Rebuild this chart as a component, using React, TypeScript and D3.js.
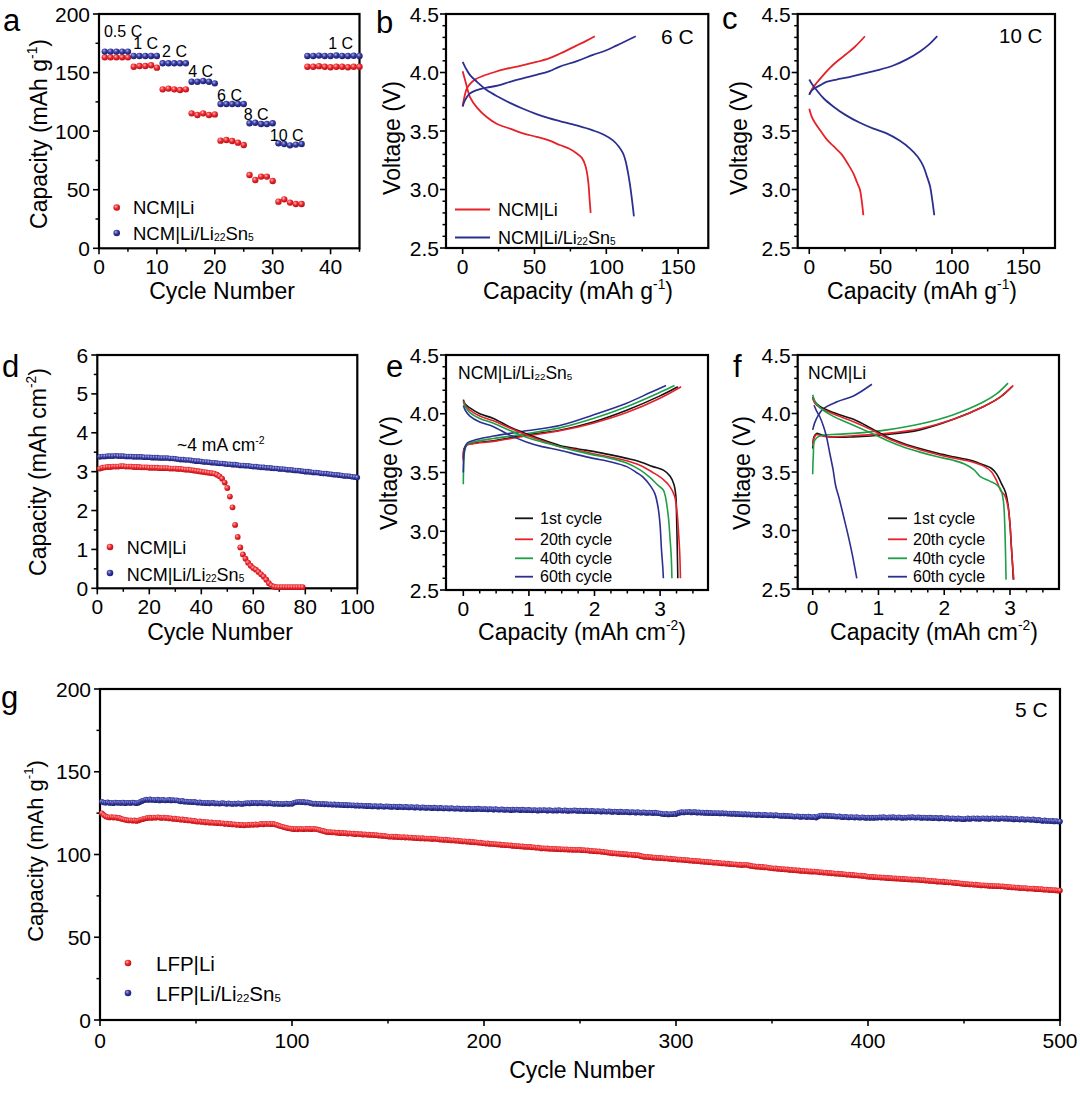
import React from "react";
import * as d3 from "d3";

const FONT = "'Liberation Sans', Arial, Helvetica, sans-serif";
const RED = "#e5222a";
const BLUE = "#2b2f8f";
const GREEN = "#1f9e48";
const BLACK = "#141414";

type Pt = [number, number];

// ---------- Panel a: rate capability (capacity per cycle, cycles 1..45) ----------
const rateNcmLi = [163, 163, 163, 163, 163, 155, 155.6, 155.6, 156.2, 154.2, 135.7, 136.3, 135.7, 135.1, 135.7, 115.2, 113.8, 115.2, 113.8, 114.3, 91.9, 92.5, 91.6, 90.2, 88.2, 62.6, 58.3, 61.2, 61.2, 57.5, 39.8, 41.8, 39, 37.8, 37.8, 155, 155, 155.5, 155, 154.5, 155, 155, 154.5, 155, 155];
const rateNcmLiSn = [167.9, 167.9, 167.9, 167.9, 167.9, 164.2, 164.2, 164.2, 164.2, 164.2, 157.9, 157.9, 157.9, 157.9, 157.9, 142.2, 142.2, 142.8, 142.2, 140.8, 123.2, 123.2, 123.2, 123.2, 123.2, 106.7, 107.2, 106.1, 106.1, 106.7, 89.6, 89, 87.9, 88.5, 89, 164.2, 164.2, 164.5, 164.2, 164.2, 164.6, 164.2, 164.2, 164.4, 164.2];
const rateLabels = ["0.5 C", "1 C", "2 C", "4 C", "6 C", "8 C", "10 C", "1 C"];
const rateLabelAt: Pt[] = [[0.86, 180.6], [5.9, 170], [10.9, 163.3], [15.4, 146.2], [20.4, 125.4], [25.0, 109.2], [29.5, 91.6], [39.6, 170]];

// ---------- Panel b: 6 C voltage profiles ----------
const b6RedChg: Pt[] = [[0, 3.71], [1, 3.78], [2.8, 3.86], [5, 3.9], [8.6, 3.94], [14, 3.97], [21.3, 4.0], [30, 4.03], [37.5, 4.05], [51.4, 4.09], [60, 4.12], [67.6, 4.16], [79.2, 4.23], [86, 4.27], [92, 4.31]];
const b6RedDis: Pt[] = [[0, 4.01], [2, 3.92], [5.1, 3.79], [10, 3.7], [16.7, 3.62], [24, 3.56], [32.9, 3.52], [42, 3.48], [51.4, 3.45], [60, 3.42], [67.6, 3.38], [74, 3.35], [79.2, 3.31], [83, 3.27], [85.5, 3.2], [87.3, 3.08], [88.4, 2.91], [89.1, 2.8]];
const b6BlueChg: Pt[] = [[0, 3.71], [1.5, 3.76], [5, 3.82], [10, 3.85], [16.7, 3.87], [25, 3.89], [32.9, 3.92], [42, 3.95], [51.4, 3.98], [60, 4.01], [67.6, 4.05], [80, 4.1], [90.7, 4.15], [100, 4.19], [107, 4.23], [113, 4.265], [120.5, 4.31]];
const b6BlueDis: Pt[] = [[0, 4.09], [2, 4.04], [5, 3.98], [10, 3.92], [16.7, 3.85], [25, 3.79], [32.9, 3.74], [42, 3.69], [51.4, 3.645], [60, 3.61], [67.6, 3.585], [80, 3.545], [90.7, 3.505], [98, 3.47], [104.6, 3.42], [108.5, 3.37], [111.6, 3.31], [113.5, 3.24], [115, 3.15], [116.5, 3.04], [117.6, 2.94], [118.5, 2.85], [119.2, 2.77]];

// ---------- Panel c: 10 C voltage profiles ----------
const c10RedChg: Pt[] = [[0, 3.81], [2, 3.86], [5.1, 3.91], [10, 3.98], [14.5, 4.04], [20, 4.1], [26.2, 4.16], [32, 4.22], [39, 4.31]];
const c10RedDis: Pt[] = [[0, 3.69], [1.5, 3.63], [4, 3.57], [8, 3.5], [12.1, 3.43], [17, 3.37], [22.7, 3.3], [27, 3.22], [30.8, 3.14], [33.5, 3.06], [35.5, 3.0], [36.8, 2.9], [37.9, 2.78]];
const c10BlueChg: Pt[] = [[0, 3.81], [2, 3.85], [7.5, 3.89], [12, 3.92], [19.2, 3.94], [28, 3.96], [37.9, 3.99], [48, 4.02], [58.9, 4.06], [68, 4.11], [77.6, 4.18], [84, 4.24], [89.7, 4.31]];
const c10BlueDis: Pt[] = [[0, 3.94], [2, 3.9], [5.1, 3.85], [10, 3.78], [16.8, 3.71], [25, 3.64], [35.5, 3.57], [45, 3.52], [54.2, 3.48], [63, 3.42], [70.6, 3.35], [76, 3.28], [79.9, 3.2], [82.5, 3.11], [84.6, 3.03], [86.3, 2.9], [87.6, 2.78]];

// ---------- Panel d: areal capacity vs cycle ----------
const dNcmLiSn = [3.38, 3.39, 3.39, 3.40, 3.40, 3.40, 3.41, 3.40, 3.40, 3.40, 3.39, 3.39, 3.39, 3.38, 3.38, 3.38, 3.38, 3.37, 3.37, 3.37, 3.36, 3.36, 3.36, 3.35, 3.35, 3.35, 3.35, 3.34, 3.34, 3.33, 3.32, 3.31, 3.31, 3.30, 3.30, 3.29, 3.28, 3.27, 3.27, 3.26, 3.25, 3.25, 3.24, 3.23, 3.23, 3.22, 3.21, 3.21, 3.20, 3.19, 3.19, 3.18, 3.18, 3.17, 3.16, 3.16, 3.15, 3.15, 3.14, 3.13, 3.13, 3.12, 3.11, 3.11, 3.10, 3.10, 3.09, 3.08, 3.08, 3.07, 3.07, 3.06, 3.05, 3.05, 3.04, 3.03, 3.03, 3.02, 3.01, 3.00, 3.00, 2.99, 2.98, 2.98, 2.97, 2.96, 2.95, 2.95, 2.94, 2.93, 2.92, 2.92, 2.91, 2.90, 2.89, 2.89, 2.88, 2.87, 2.86, 2.85];
const dNcmLi = [3.08, 3.10, 3.11, 3.12, 3.12, 3.13, 3.13, 3.13, 3.14, 3.14, 3.13, 3.13, 3.13, 3.12, 3.12, 3.12, 3.11, 3.11, 3.11, 3.10, 3.10, 3.10, 3.10, 3.09, 3.09, 3.09, 3.09, 3.08, 3.08, 3.08, 3.07, 3.07, 3.06, 3.05, 3.05, 3.04, 3.03, 3.02, 3.01, 3.00, 2.99, 2.98, 2.97, 2.96, 2.95, 2.92, 2.88, 2.82, 2.72, 2.58, 2.36, 2.08, 1.63, 1.32, 1.05, 0.87, 0.76, 0.66, 0.58, 0.52, 0.48, 0.42, 0.36, 0.30, 0.22, 0.13, 0.07, 0.04, 0.03, 0.03, 0.03, 0.03, 0.03, 0.03, 0.03, 0.03, 0.03, 0.03, 0.03];

// ---------- Panel e: NCM|Li/Li22Sn5 profiles ----------
const eDis1: Pt[] = [[0, 4.12], [0.03, 4.08], [0.1, 4.05], [0.25, 4.0], [0.46, 3.96], [0.7, 3.89], [0.96, 3.83], [1.2, 3.78], [1.47, 3.73], [1.75, 3.7], [1.98, 3.68], [2.25, 3.65], [2.49, 3.62], [2.7, 3.59], [2.89, 3.55], [3.05, 3.52], [3.15, 3.47], [3.21, 3.4], [3.24, 3.3], [3.25, 3.15], [3.26, 2.9], [3.27, 2.6]];
const eDis20: Pt[] = [[0, 4.11], [0.03, 4.07], [0.1, 4.03], [0.25, 3.98], [0.46, 3.94], [0.7, 3.88], [0.96, 3.82], [1.2, 3.77], [1.47, 3.72], [1.75, 3.69], [1.98, 3.66], [2.25, 3.63], [2.49, 3.6], [2.7, 3.56], [2.89, 3.5], [3.05, 3.44], [3.15, 3.38], [3.22, 3.3], [3.26, 3.15], [3.28, 3.0], [3.3, 2.8], [3.31, 2.6]];
const eDis40: Pt[] = [[0, 4.1], [0.03, 4.06], [0.1, 4.01], [0.25, 3.96], [0.46, 3.92], [0.7, 3.86], [0.96, 3.8], [1.2, 3.76], [1.47, 3.72], [1.75, 3.68], [1.98, 3.65], [2.25, 3.62], [2.49, 3.58], [2.7, 3.52], [2.84, 3.46], [2.97, 3.39], [3.05, 3.35], [3.12, 3.15], [3.15, 2.95], [3.17, 2.78], [3.18, 2.6]];
const eDis60: Pt[] = [[0, 4.07], [0.03, 4.03], [0.1, 3.98], [0.25, 3.93], [0.46, 3.89], [0.7, 3.82], [0.96, 3.76], [1.2, 3.72], [1.47, 3.69], [1.75, 3.65], [1.98, 3.62], [2.25, 3.59], [2.49, 3.55], [2.64, 3.5], [2.74, 3.46], [2.86, 3.38], [2.92, 3.32], [2.97, 3.2], [3.0, 3.05], [3.02, 2.85], [3.04, 2.7], [3.05, 2.6]];
const eChg1: Pt[] = [[0, 3.62], [0.01, 3.7], [0.05, 3.735], [0.15, 3.75], [0.46, 3.77], [0.96, 3.82], [1.47, 3.86], [1.98, 3.93], [2.49, 4.03], [2.99, 4.15], [3.27, 4.23]];
const eChg20: Pt[] = [[0, 3.6], [0.01, 3.69], [0.05, 3.73], [0.15, 3.745], [0.46, 3.765], [0.96, 3.81], [1.47, 3.855], [1.98, 3.92], [2.49, 4.01], [2.99, 4.13], [3.32, 4.23]];
const eChg40: Pt[] = [[0, 3.4], [0.005, 3.55], [0.02, 3.68], [0.06, 3.74], [0.2, 3.765], [0.46, 3.79], [0.96, 3.83], [1.47, 3.88], [1.98, 3.96], [2.49, 4.06], [2.99, 4.18], [3.22, 4.24]];
const eChg60: Pt[] = [[0, 3.5], [0.005, 3.62], [0.02, 3.7], [0.06, 3.75], [0.2, 3.78], [0.46, 3.81], [0.96, 3.855], [1.47, 3.9], [1.98, 3.99], [2.49, 4.09], [2.85, 4.18], [3.09, 4.24]];

// ---------- Panel f: NCM|Li profiles ----------
const fDis1: Pt[] = [[0, 4.14], [0.03, 4.1], [0.11, 4.06], [0.3, 4.01], [0.62, 3.95], [0.9, 3.87], [1.13, 3.8], [1.4, 3.74], [1.63, 3.7], [1.9, 3.66], [2.14, 3.63], [2.4, 3.6], [2.6, 3.56], [2.72, 3.53], [2.8, 3.48], [2.87, 3.4], [2.93, 3.33], [2.97, 3.22], [3.0, 3.05], [3.02, 2.87], [3.04, 2.7], [3.05, 2.58]];
const fDis20: Pt[] = [[0, 4.13], [0.03, 4.09], [0.11, 4.05], [0.3, 4.0], [0.62, 3.93], [0.9, 3.86], [1.13, 3.79], [1.4, 3.73], [1.63, 3.69], [1.9, 3.65], [2.14, 3.62], [2.4, 3.59], [2.6, 3.55], [2.72, 3.5], [2.8, 3.42], [2.86, 3.34], [2.92, 3.3], [2.97, 3.2], [3.0, 3.05], [3.02, 2.87], [3.04, 2.7], [3.06, 2.58]];
const fDis40: Pt[] = [[0, 4.16], [0.03, 4.11], [0.11, 4.05], [0.3, 3.98], [0.62, 3.9], [0.9, 3.83], [1.13, 3.77], [1.4, 3.71], [1.63, 3.67], [1.9, 3.63], [2.14, 3.6], [2.3, 3.57], [2.45, 3.52], [2.55, 3.46], [2.7, 3.42], [2.8, 3.39], [2.86, 3.35], [2.9, 3.25], [2.92, 3.05], [2.93, 2.85], [2.94, 2.58]];
const fDis60: Pt[] = [[0.02, 4.07], [0.06, 4.02], [0.11, 3.97], [0.17, 3.88], [0.21, 3.8], [0.26, 3.66], [0.31, 3.52], [0.35, 3.38], [0.4, 3.28], [0.47, 3.12], [0.53, 2.98], [0.6, 2.8], [0.67, 2.59]];
const fChg1: Pt[] = [[0, 3.7], [0.02, 3.8], [0.06, 3.83], [0.12, 3.82], [0.25, 3.8], [0.62, 3.8], [1.13, 3.82], [1.63, 3.86], [2.14, 3.95], [2.6, 4.06], [2.85, 4.14], [3.03, 4.23]];
const fChg20: Pt[] = [[0, 3.72], [0.02, 3.79], [0.06, 3.82], [0.12, 3.81], [0.25, 3.8], [0.62, 3.81], [1.13, 3.83], [1.63, 3.87], [2.14, 3.95], [2.6, 4.06], [2.85, 4.14], [3.05, 4.24]];
const fChg40: Pt[] = [[0, 3.48], [0.01, 3.65], [0.03, 3.77], [0.11, 3.81], [0.3, 3.82], [0.62, 3.83], [1.13, 3.86], [1.63, 3.91], [2.14, 3.99], [2.6, 4.1], [2.8, 4.17], [2.97, 4.26]];
const fChg60: Pt[] = [[0, 3.86], [0.03, 3.92], [0.08, 3.98], [0.16, 4.04], [0.37, 4.1], [0.62, 4.15], [0.9, 4.25]];

// ---------- Panel g: LFP long cycling at 5 C (cycles 1..500) ----------
const gLfpLiSn = [
  131.9, 131.4, 131.2, 131.5, 131.1, 131.3, 131.0, 131.4, 131.2, 131.3, 131.1, 131.4, 131.0, 131.2, 131.3, 131.1, 131.4, 131.2, 131.0, 131.3,
  131.8, 132.4, 132.8, 133.2, 133.0, 133.3, 132.9, 133.1, 132.8, 133.2, 132.7, 132.9, 133.0, 132.6, 132.8, 133.1, 132.7, 132.9, 132.6, 132.8,
  132.3, 132.1, 132.4, 131.9, 132.0, 131.7, 131.9, 131.6, 131.8, 131.5, 131.3, 131.5, 131.1, 131.3, 131.0, 131.2, 130.9, 131.1, 131.2, 130.8,
  131.0, 130.7, 130.9, 131.1, 130.8, 130.6, 130.9, 130.7, 130.5, 130.8, 130.6, 130.9, 130.7, 130.5, 130.8, 130.9, 131.1, 130.8, 131.2, 131.0,
  131.3, 130.9, 131.1, 131.2, 130.9, 131.0, 130.8, 131.1, 130.9, 130.7, 130.6, 130.8, 130.5, 130.7, 130.4, 130.6, 130.8, 130.5, 130.7, 130.6,
  131.2, 131.5, 131.7, 131.9, 131.6, 131.8, 131.4, 131.5, 131.2, 131.0, 130.6, 130.8, 130.5, 130.7, 130.4, 130.6, 130.3, 130.5, 130.2, 130.4,
  130.1, 130.3, 130.0, 130.2, 129.9, 130.1, 129.8, 130.0, 129.7, 129.9, 129.6, 129.8, 129.5, 129.7, 129.4, 129.6, 129.3, 129.5, 129.2, 129.4,
  129.2, 129.0, 129.3, 129.1, 128.9, 129.2, 129.0, 128.8, 129.1, 129.0, 128.9, 128.7, 129.0, 128.8, 128.6, 128.9, 128.7, 128.5, 128.8, 128.6,
  128.4, 128.7, 128.5, 128.3, 128.6, 128.4, 128.2, 128.5, 128.3, 128.1, 128.4, 128.2, 128.0, 128.3, 128.1, 127.9, 128.2, 128.0, 127.8, 128.1,
  127.9, 127.7, 128.0, 127.8, 127.6, 127.9, 127.7, 127.5, 127.8, 127.6, 127.4, 127.7, 127.5, 127.3, 127.6, 127.4, 127.7, 127.5, 127.3, 127.5,
  127.4, 127.2, 127.5, 127.3, 127.1, 127.4, 127.2, 127.0, 127.3, 127.1, 126.9, 127.2, 127.0, 126.8, 127.1, 126.9, 127.2, 127.0, 126.8, 127.1,
  126.9, 126.7, 127.0, 126.8, 126.6, 126.9, 126.7, 126.5, 126.8, 126.6, 126.9, 126.7, 126.5, 126.8, 126.6, 126.4, 126.7, 126.5, 126.8, 126.6,
  126.4, 126.7, 126.5, 126.3, 126.6, 126.4, 126.7, 126.5, 126.3, 126.5, 126.4, 126.2, 126.5, 126.3, 126.1, 126.4, 126.2, 126.0, 126.3, 126.1,
  125.9, 126.2, 126.0, 125.8, 126.1, 125.9, 125.7, 126.0, 125.8, 125.6, 125.9, 125.7, 125.5, 125.8, 125.6, 125.4, 125.7, 125.5, 125.3, 125.6,
  125.4, 125.2, 125.5, 125.3, 125.1, 125.4, 125.2, 125.0, 125.3, 125.1, 124.9, 124.7, 124.5, 124.3, 124.6, 124.2, 124.5, 124.3, 124.6, 124.4,
  125.0, 125.3, 125.6, 125.4, 125.7, 125.5, 125.8, 125.4, 125.6, 125.7, 125.3, 125.5, 125.2, 125.4, 125.1, 125.3, 125.0, 125.2, 124.9, 125.1,
  124.9, 125.1, 124.8, 125.0, 124.7, 124.9, 124.6, 124.8, 124.5, 124.7, 124.4, 124.6, 124.3, 124.5, 124.2, 124.4, 124.1, 124.3, 124.0, 124.2,
  124.0, 123.8, 124.1, 123.9, 123.7, 124.0, 123.8, 123.6, 123.9, 123.7, 123.5, 123.8, 123.6, 123.4, 123.3, 123.5, 123.2, 123.4, 123.1, 123.3,
  123.0, 122.8, 123.1, 122.9, 122.7, 123.0, 122.8, 122.6, 122.9, 122.7, 122.5, 122.8, 122.3, 123.0, 123.4, 123.6, 123.3, 123.5, 123.2, 123.4,
  123.1, 123.3, 123.0, 122.8, 123.1, 122.7, 122.5, 122.8, 122.6, 122.4, 122.7, 122.5, 122.3, 122.6, 122.4, 122.2, 122.5, 122.3, 122.1, 122.4,
  122.0, 122.3, 122.1, 122.4, 122.2, 122.5, 122.3, 122.6, 122.4, 122.2, 122.5, 122.3, 122.6, 122.4, 122.2, 122.5, 122.3, 122.1, 122.4, 122.2,
  122.5, 122.3, 122.6, 122.4, 122.2, 122.5, 122.3, 122.1, 122.4, 122.2, 122.0, 122.3, 122.1, 121.9, 122.2, 122.0, 121.8, 122.1, 121.9, 121.7,
  122.0, 121.8, 121.6, 121.9, 121.7, 121.5, 121.8, 121.6, 121.4, 121.3, 121.6, 121.8, 121.5, 121.7, 121.9, 121.6, 121.8, 121.5, 121.7, 121.9,
  121.6, 121.8, 121.5, 121.7, 121.9, 121.6, 121.8, 121.5, 121.7, 121.9, 121.6, 121.8, 121.5, 121.7, 121.4, 121.2, 121.5, 121.3, 121.1, 121.4,
  121.2, 121.0, 121.3, 121.1, 120.9, 121.2, 120.8, 120.6, 120.9, 120.5, 120.3, 120.6, 120.2, 120.4, 120.1, 120.3, 120.0, 120.2, 119.9, 119.9,
];
const gLfpLi = [
  124.9, 123.8, 123.0, 122.6, 122.4, 122.7, 122.3, 122.5, 122.1, 122.2, 121.6, 121.3, 121.0, 120.8, 120.5, 120.7, 120.4, 120.6, 120.3, 120.5,
  121.0, 121.3, 121.6, 121.9, 122.1, 122.3, 122.0, 122.4, 122.2, 122.5, 122.3, 122.1, 122.4, 122.0, 122.2, 121.8, 121.9, 121.5, 121.7, 121.3,
  121.4, 121.0, 121.2, 120.8, 120.9, 120.5, 120.7, 120.3, 120.4, 120.0, 119.8, 120.0, 119.6, 119.8, 119.4, 119.6, 119.2, 119.4, 119.0, 119.2,
  118.9, 119.1, 118.7, 118.9, 118.5, 118.7, 118.3, 118.5, 118.1, 118.3, 117.9, 118.1, 117.7, 117.9, 117.6, 117.8, 118.0, 117.8, 118.1, 117.9,
  118.2, 118.0, 118.3, 118.5, 118.2, 118.6, 118.4, 118.6, 118.3, 118.5, 118.2, 118.0, 117.5, 117.1, 116.8, 116.5, 116.2, 115.9, 115.7, 115.5,
  115.3, 115.5, 115.2, 115.6, 115.4, 115.3, 115.6, 115.4, 115.5, 115.3, 115.6, 115.4, 115.2, 114.9, 114.6, 114.3, 114.0, 113.6, 113.4, 113.5,
  113.3, 113.4, 113.1, 113.2, 112.9, 113.1, 112.8, 112.9, 112.6, 112.8, 112.5, 112.6, 112.3, 112.5, 112.2, 112.3, 112.0, 112.2, 111.9, 112.0,
  111.8, 111.9, 111.6, 111.7, 111.4, 111.5, 111.2, 111.3, 111.0, 110.9, 110.7, 110.9, 110.6, 110.8, 110.5, 110.6, 110.3, 110.5, 110.2, 110.4,
  110.1, 110.3, 110.0, 110.1, 109.8, 110.0, 109.7, 109.9, 109.6, 109.7, 109.5, 109.6, 109.3, 109.5, 109.4, 109.2, 109.0, 109.1, 108.8, 109.0,
  108.7, 108.8, 108.5, 108.6, 108.3, 108.4, 108.1, 108.2, 107.9, 108.0, 107.7, 107.8, 107.5, 107.6, 107.3, 107.4, 107.1, 107.2, 106.9, 106.8,
  106.6, 106.7, 106.4, 106.5, 106.2, 106.3, 106.0, 106.1, 105.8, 105.9, 105.6, 105.7, 105.4, 105.5, 105.2, 105.3, 105.0, 105.1, 104.8, 104.9,
  104.6, 104.7, 104.5, 104.6, 104.3, 104.4, 104.1, 104.2, 103.9, 103.7, 103.8, 103.6, 103.7, 103.4, 103.5, 103.3, 103.4, 103.2, 103.3, 103.1,
  103.2, 103.0, 103.1, 102.9, 103.0, 102.8, 102.9, 102.7, 102.9, 102.8, 102.6, 102.7, 102.4, 102.5, 102.2, 102.3, 102.0, 102.1, 101.8, 101.9,
  101.6, 101.7, 101.4, 101.3, 101.1, 100.9, 100.7, 100.8, 100.5, 100.6, 100.3, 100.4, 100.1, 100.2, 99.9, 100.0, 99.7, 99.8, 99.5, 99.6,
  99.3, 99.0, 98.7, 98.5, 98.6, 98.3, 98.4, 98.1, 98.2, 97.9, 98.0, 97.8, 97.9, 97.6, 97.7, 97.4, 97.5, 97.2, 97.3, 97.1,
  96.9, 97.0, 96.7, 96.8, 96.5, 96.6, 96.3, 96.4, 96.1, 96.2, 95.9, 96.0, 95.7, 95.8, 95.5, 95.6, 95.3, 95.4, 95.1, 95.0,
  95.1, 94.8, 94.9, 94.6, 94.7, 94.4, 94.5, 94.2, 94.3, 94.0, 94.1, 93.8, 93.9, 93.6, 93.7, 93.8, 93.7, 93.4, 93.1, 92.9,
  92.8, 92.6, 92.7, 92.4, 92.5, 92.2, 92.3, 92.0, 91.8, 91.7, 91.5, 91.6, 91.3, 91.4, 91.1, 91.2, 90.9, 91.0, 90.7, 90.8,
  90.5, 90.6, 90.3, 90.4, 90.1, 90.2, 89.9, 90.0, 89.7, 89.8, 89.6, 89.7, 89.6, 89.4, 89.2, 89.3, 89.0, 89.1, 88.8, 88.9,
  88.6, 88.7, 88.4, 88.5, 88.2, 88.3, 88.0, 88.1, 87.8, 87.9, 87.6, 87.7, 87.4, 87.5, 87.2, 87.3, 87.0, 87.1, 86.8, 86.6,
  86.5, 86.6, 86.3, 86.4, 86.1, 86.2, 86.0, 86.1, 85.8, 85.9, 85.7, 85.8, 85.5, 85.6, 85.4, 85.5, 85.2, 85.3, 85.1, 85.2,
  84.9, 85.0, 84.8, 84.9, 84.7, 84.8, 84.6, 84.4, 84.5, 84.2, 84.3, 84.0, 84.1, 83.8, 83.9, 83.6, 83.7, 83.5, 83.6, 83.3,
  83.4, 83.1, 83.2, 82.9, 83.0, 82.7, 82.8, 82.5, 82.4, 82.2, 82.1, 82.2, 81.9, 82.0, 81.7, 81.8, 81.5, 81.6, 81.3, 81.4,
  81.2, 81.3, 81.0, 81.1, 80.9, 81.0, 80.8, 80.9, 80.7, 80.8, 80.6, 80.5, 80.3, 80.4, 80.1, 80.2, 79.9, 80.0, 79.7, 79.8,
  79.6, 79.7, 79.4, 79.5, 79.3, 79.4, 79.1, 79.2, 79.0, 79.1, 78.9, 78.7, 78.8, 78.5, 78.6, 78.4, 78.5, 78.3, 78.2, 78.2,
];

const cycleLegend = ["1st cycle", "20th cycle", "40th cycle", "60th cycle"];
const cycleColors = [BLACK, RED, GREEN, BLUE];

// ---------- helpers ----------
const range = (a: number, b: number, s: number) => {
  const out: number[] = [];
  for (let i = 0; a + i * s <= b + 1e-9; i++) out.push(+(a + i * s).toFixed(4));
  return out;
};
const minorOf = (a: number, b: number, s: number, majors: number[]) =>
  range(a, b, s).filter((v) => !majors.some((m) => Math.abs(m - v) < 1e-6));

type Lin = d3.ScaleLinear<number, number>;

function Axes(props: {
  xs: Lin; ys: Lin; xMajor: number[]; xMinor: number[]; yMajor: number[]; yMinor: number[];
  xFmt: (v: number) => string; yFmt: (v: number) => string; fs: number; yGap: number; xOff: number;
}) {
  const { xs, ys, xMajor, xMinor, yMajor, yMinor, xFmt, yFmt, fs, yGap, xOff } = props;
  const [x0, x1] = xs.range();
  const [yb, yt] = ys.range();
  return (
    <g>
      {xMinor.map((v) => (
        <line key={"xn" + v} x1={xs(v)} x2={xs(v)} y1={yb} y2={yb + 3.5} stroke="#000" strokeWidth={1.5} />
      ))}
      {xMajor.map((v) => (
        <line key={"xj" + v} x1={xs(v)} x2={xs(v)} y1={yb} y2={yb + 6} stroke="#000" strokeWidth={1.6} />
      ))}
      {yMinor.map((v) => (
        <line key={"yn" + v} x1={x0} x2={x0 - 3.5} y1={ys(v)} y2={ys(v)} stroke="#000" strokeWidth={1.5} />
      ))}
      {yMajor.map((v) => (
        <line key={"yj" + v} x1={x0} x2={x0 - 6} y1={ys(v)} y2={ys(v)} stroke="#000" strokeWidth={1.6} />
      ))}
      <rect x={x0} y={yt} width={x1 - x0} height={yb - yt} fill="none" stroke="#000" strokeWidth={2.2} />
      {xMajor.map((v) => (
        <text key={"xl" + v} x={xs(v)} y={yb + xOff} textAnchor="middle" fontSize={fs}>
          {xFmt(v)}
        </text>
      ))}
      {yMajor.map((v) => (
        <text key={"yl" + v} x={x0 - yGap} y={ys(v)} dy="0.36em" textAnchor="end" fontSize={fs}>
          {yFmt(v)}
        </text>
      ))}
    </g>
  );
}

function LiSn({ fs }: { fs: number }) {
  return (
    <>
      <tspan fontSize={fs * 0.56} dy={1.5}>22</tspan>
      <tspan fontSize={fs} dy={-1.5}>Sn</tspan>
      <tspan fontSize={fs * 0.56} dy={1.5}>5</tspan>
    </>
  );
}

function Sup({ fs, t }: { fs: number; t: string }) {
  return (
    <>
      <tspan fontSize={fs * 0.6} dy={-fs * 0.42}>{t}</tspan>
      <tspan fontSize={fs} dy={fs * 0.42}>)</tspan>
    </>
  );
}

function YTitle({ x, y, fs, children }: { x: number; y: number; fs: number; children: React.ReactNode }) {
  return (
    <text transform={`translate(${x},${y}) rotate(-90)`} textAnchor="middle" dy="0.35em" fontSize={fs}>
      {children}
    </text>
  );
}

function Ball({ cx, cy, r, color }: { cx: number; cy: number; r: number; color: "r" | "b" }) {
  return <circle cx={cx} cy={cy} r={r} fill={color === "r" ? "url(#ballR)" : "url(#ballB)"} />;
}

function curvePath(xs: Lin, ys: Lin, pts: Pt[]) {
  return d3
    .line<Pt>()
    .x((d) => xs(d[0]))
    .y((d) => ys(d[1]))
    .curve(d3.curveCatmullRom.alpha(0.5))(pts) as string;
}

const TF = 21; // tick font
const TT = 23; // title font
const LF = 31; // panel letter font
const f1 = (v: number) => v.toFixed(1);
const f0 = (v: number) => String(v);

export default function App() {
  const aX = d3.scaleLinear().domain([0, 45]).range([99, 359.5]);
  const aY = d3.scaleLinear().domain([0, 200]).range([248.3, 14]);
  const bX = d3.scaleLinear().domain([-11.6, 171]).range([446, 708.3]);
  const bY = d3.scaleLinear().domain([2.5, 4.5]).range([248, 14]);
  const cX = d3.scaleLinear().domain([-8.1, 172.2]).range([797.7, 1055]);
  const cY = d3.scaleLinear().domain([2.5, 4.5]).range([248, 14]);
  const dX = d3.scaleLinear().domain([0, 100]).range([97.3, 357.3]);
  const dY = d3.scaleLinear().domain([0, 6]).range([588.3, 355]);
  const eX = d3.scaleLinear().domain([-0.264, 3.73]).range([446, 708]);
  const eY = d3.scaleLinear().domain([2.5, 4.5]).range([590, 355]);
  const fX = d3.scaleLinear().domain([-0.228, 3.745]).range([797.7, 1059]);
  const fY = d3.scaleLinear().domain([2.5, 4.5]).range([589, 355]);
  const gX = d3.scaleLinear().domain([0, 500]).range([100, 1060]);
  const gY = d3.scaleLinear().domain([0, 200]).range([1020, 689]);

  const vMaj = [2.5, 3, 3.5, 4, 4.5];
  const vMin = minorOf(2.5, 4.5, 0.1, vMaj);

  const eDis = [eDis1, eDis20, eDis40, eDis60];
  const eChg = [eChg1, eChg20, eChg40, eChg60];
  const fDis = [fDis1, fDis20, fDis40, fDis60];
  const fChg = [fChg1, fChg20, fChg40, fChg60];

  const lw = 1.8;

  return (
    <div>
      <style>{"html,body{margin:0;padding:0;background:#fff}"}</style>
      <svg width={1080} height={1114} style={{ display: "block", background: "#fff" }} fontFamily={FONT}>
        <defs>
          <radialGradient id="ballR" cx="38%" cy="35%" r="70%">
            <stop offset="0%" stopColor="#ffb3b3" />
            <stop offset="45%" stopColor="#ee2a2f" />
            <stop offset="100%" stopColor="#b20a10" />
          </radialGradient>
          <radialGradient id="ballB" cx="38%" cy="35%" r="70%">
            <stop offset="0%" stopColor="#a9acec" />
            <stop offset="45%" stopColor="#353aa0" />
            <stop offset="100%" stopColor="#191b66" />
          </radialGradient>
        </defs>

        {/* ---------------- a ---------------- */}
        <Axes xs={aX} ys={aY} xMajor={[0, 10, 20, 30, 40]} xMinor={[5, 15, 25, 35, 45]}
          yMajor={[0, 50, 100, 150, 200]} yMinor={[25, 75, 125, 175]} xFmt={f0} yFmt={f0} fs={TF} yGap={9} xOff={26} />
        {rateNcmLi.map((v, i) => <Ball key={"ar" + i} cx={aX(i + 1)} cy={aY(v)} r={3.2} color="r" />)}
        {rateNcmLiSn.map((v, i) => <Ball key={"ab" + i} cx={aX(i + 1)} cy={aY(v)} r={3.2} color="b" />)}
        {rateLabels.map((t, i) => (
          <text key={"rl" + i} x={aX(rateLabelAt[i][0])} y={aY(rateLabelAt[i][1])} fontSize={16}>{t}</text>
        ))}
        <Ball cx={116.7} cy={207.5} r={3.3} color="r" />
        <text x={133} y={214} fontSize={18.5}>NCM|Li</text>
        <Ball cx={116.7} cy={233} r={3.3} color="b" />
        <text x={133} y={239.5} fontSize={18.5}>NCM|Li/Li<LiSn fs={18.5} /></text>
        <YTitle x={39} y={134} fs={TT}>Capacity (mAh g<Sup fs={TT} t="-1" /></YTitle>
        <text x={222} y={299} textAnchor="middle" fontSize={TT}>Cycle Number</text>
        <text x={3} y={31} fontSize={LF}>a</text>

        {/* ---------------- b ---------------- */}
        <Axes xs={bX} ys={bY} xMajor={[0, 50, 100, 150]} xMinor={[25, 75, 125]}
          yMajor={vMaj} yMinor={vMin} xFmt={f0} yFmt={f1} fs={TF} yGap={7} xOff={26} />
        <path d={curvePath(bX, bY, b6RedChg)} fill="none" stroke={RED} strokeWidth={lw} />
        <path d={curvePath(bX, bY, b6RedDis)} fill="none" stroke={RED} strokeWidth={lw} />
        <path d={curvePath(bX, bY, b6BlueChg)} fill="none" stroke={BLUE} strokeWidth={lw} />
        <path d={curvePath(bX, bY, b6BlueDis)} fill="none" stroke={BLUE} strokeWidth={lw} />
        <line x1={455} x2={490} y1={209.5} y2={209.5} stroke={RED} strokeWidth={lw} />
        <text x={498} y={215.5} fontSize={18}>NCM|Li</text>
        <line x1={455} x2={490} y1={237.5} y2={237.5} stroke={BLUE} strokeWidth={lw} />
        <text x={498} y={243.5} fontSize={18}>NCM|Li/Li<LiSn fs={18} /></text>
        <text x={661} y={43.5} fontSize={21}>6 C</text>
        <YTitle x={392} y={138} fs={TT}>Voltage (V)</YTitle>
        <text x={578} y={299} textAnchor="middle" fontSize={TT}>Capacity (mAh g<Sup fs={TT} t="-1" /></text>
        <text x={376} y={33} fontSize={LF}>b</text>

        {/* ---------------- c ---------------- */}
        <Axes xs={cX} ys={cY} xMajor={[0, 50, 100, 150]} xMinor={[25, 75, 125]}
          yMajor={vMaj} yMinor={vMin} xFmt={f0} yFmt={f1} fs={TF} yGap={7} xOff={26} />
        <path d={curvePath(cX, cY, c10RedChg)} fill="none" stroke={RED} strokeWidth={lw} />
        <path d={curvePath(cX, cY, c10RedDis)} fill="none" stroke={RED} strokeWidth={lw} />
        <path d={curvePath(cX, cY, c10BlueChg)} fill="none" stroke={BLUE} strokeWidth={lw} />
        <path d={curvePath(cX, cY, c10BlueDis)} fill="none" stroke={BLUE} strokeWidth={lw} />
        <text x={999} y={43} fontSize={20.5}>10 C</text>
        <YTitle x={739} y={138} fs={TT}>Voltage (V)</YTitle>
        <text x={922} y={299} textAnchor="middle" fontSize={TT}>Capacity (mAh g<Sup fs={TT} t="-1" /></text>
        <text x={722} y={29} fontSize={LF}>c</text>

        {/* ---------------- d ---------------- */}
        <Axes xs={dX} ys={dY} xMajor={[0, 20, 40, 60, 80, 100]} xMinor={[10, 30, 50, 70, 90]}
          yMajor={[0, 1, 2, 3, 4, 5, 6]} yMinor={[0.5, 1.5, 2.5, 3.5, 4.5, 5.5]} xFmt={f0} yFmt={f0} fs={TF} yGap={9} xOff={26} />
        {dNcmLiSn.map((v, i) => <Ball key={"db" + i} cx={dX(i + 1)} cy={dY(v)} r={2.8} color="b" />)}
        {dNcmLi.map((v, i) => <Ball key={"dr" + i} cx={dX(i + 1)} cy={dY(v)} r={2.9} color="r" />)}
        <text x={177} y={451} fontSize={17.5}>~4 mA cm<tspan fontSize={10.5} dy={-7}>-2</tspan></text>
        <Ball cx={110} cy={547} r={3.3} color="r" />
        <text x={126.7} y={554} fontSize={18}>NCM|Li</text>
        <Ball cx={110} cy={573} r={3.3} color="b" />
        <text x={126.7} y={580.5} fontSize={18}>NCM|Li/Li<LiSn fs={18} /></text>
        <YTitle x={37.5} y={472} fs={TT}>Capacity (mAh cm<Sup fs={TT} t="-2" /></YTitle>
        <text x={220} y={640} textAnchor="middle" fontSize={TT}>Cycle Number</text>
        <text x={2} y={377} fontSize={LF}>d</text>

        {/* ---------------- e ---------------- */}
        <Axes xs={eX} ys={eY} xMajor={[0, 1, 2, 3]} xMinor={minorOf(0, 3.5, 0.25, [0, 1, 2, 3])}
          yMajor={vMaj} yMinor={vMin} xFmt={f0} yFmt={f1} fs={TF} yGap={7} xOff={26} />
        {eChg.map((c, i) => <path key={"ec" + i} d={curvePath(eX, eY, c)} fill="none" stroke={cycleColors[i]} strokeWidth={1.6} />)}
        {eDis.map((c, i) => <path key={"ed" + i} d={curvePath(eX, eY, c)} fill="none" stroke={cycleColors[i]} strokeWidth={1.6} />)}
        {cycleLegend.map((t, i) => {
          const y = [518.3, 539.3, 558.3, 576.7][i];
          return (
            <g key={"el" + i}>
              <line x1={515} x2={533} y1={y} y2={y} stroke={cycleColors[i]} strokeWidth={1.8} />
              <text x={540} y={y + 5.6} fontSize={16}>{t}</text>
            </g>
          );
        })}
        <text x={458} y={378.5} fontSize={17.5}>NCM|Li/Li<LiSn fs={17.5} /></text>
        <YTitle x={389} y={473} fs={TT}>Voltage (V)</YTitle>
        <text x={582} y={640} textAnchor="middle" fontSize={TT}>Capacity (mAh cm<Sup fs={TT} t="-2" /></text>
        <text x={386} y={377} fontSize={LF}>e</text>

        {/* ---------------- f ---------------- */}
        <Axes xs={fX} ys={fY} xMajor={[0, 1, 2, 3]} xMinor={minorOf(0, 3.5, 0.25, [0, 1, 2, 3])}
          yMajor={vMaj} yMinor={vMin} xFmt={f0} yFmt={f1} fs={TF} yGap={7} xOff={26} />
        {fChg.map((c, i) => <path key={"fc" + i} d={curvePath(fX, fY, c)} fill="none" stroke={cycleColors[i]} strokeWidth={1.6} />)}
        {fDis.map((c, i) => <path key={"fd" + i} d={curvePath(fX, fY, c)} fill="none" stroke={cycleColors[i]} strokeWidth={1.6} />)}
        {cycleLegend.map((t, i) => {
          const y = [518.3, 539.3, 558.3, 576.7][i];
          return (
            <g key={"fl" + i}>
              <line x1={888} x2={907} y1={y} y2={y} stroke={cycleColors[i]} strokeWidth={1.8} />
              <text x={913} y={y + 5.6} fontSize={16}>{t}</text>
            </g>
          );
        })}
        <text x={808} y={378.5} fontSize={17.5}>NCM|Li</text>
        <YTitle x={742} y={473} fs={TT}>Voltage (V)</YTitle>
        <text x={934} y={640} textAnchor="middle" fontSize={TT}>Capacity (mAh cm<Sup fs={TT} t="-2" /></text>
        <text x={733} y={377} fontSize={LF}>f</text>

        {/* ---------------- g ---------------- */}
        <Axes xs={gX} ys={gY} xMajor={[0, 100, 200, 300, 400, 500]} xMinor={[50, 150, 250, 350, 450]}
          yMajor={[0, 50, 100, 150, 200]} yMinor={[25, 75, 125, 175]} xFmt={f0} yFmt={f0} fs={21} yGap={9} xOff={28} />
        {gLfpLiSn.map((v, i) => <Ball key={"gb" + i} cx={gX(i + 1)} cy={gY(v)} r={2.8} color="b" />)}
        {gLfpLi.map((v, i) => <Ball key={"gr" + i} cx={gX(i + 1)} cy={gY(v)} r={2.8} color="r" />)}
        <Ball cx={128} cy={963} r={3.3} color="r" />
        <text x={156} y={970.5} fontSize={20.5}>LFP|Li</text>
        <Ball cx={128} cy={993} r={3.3} color="b" />
        <text x={156} y={1000.5} fontSize={20.5}>LFP|Li/Li<LiSn fs={20.5} /></text>
        <text x={1015} y={717} fontSize={21}>5 C</text>
        <YTitle x={35} y={851} fs={22}>Capacity (mAh g<Sup fs={22} t="-1" /></YTitle>
        <text x={582} y={1078} textAnchor="middle" fontSize={TT}>Cycle Number</text>
        <text x={1} y={708} fontSize={LF}>g</text>
      </svg>
    </div>
  );
}
